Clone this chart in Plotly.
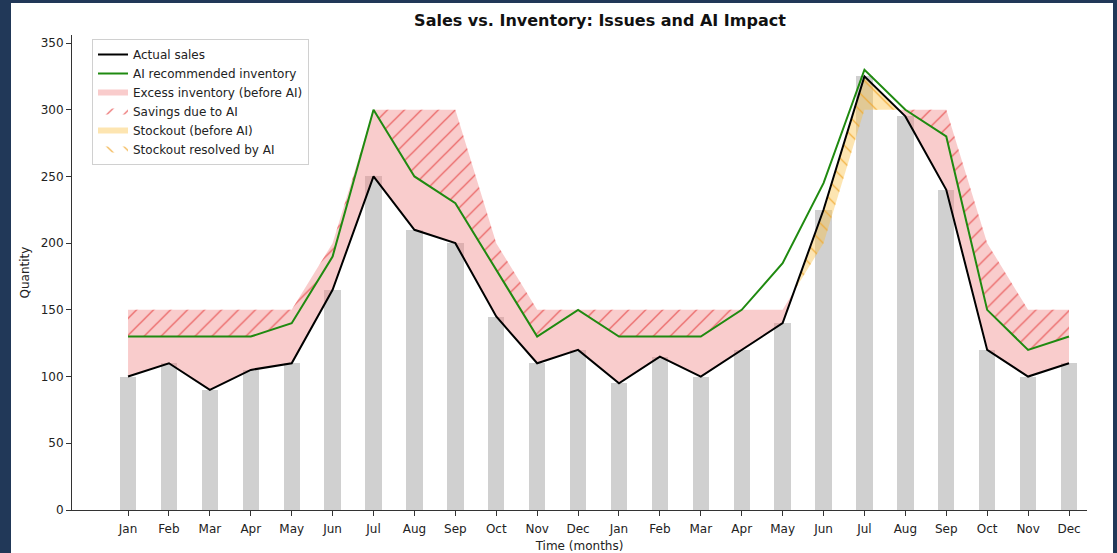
import plotly.graph_objects as go

months = ["Jan", "Feb", "Mar", "Apr", "May", "Jun", "Jul", "Aug", "Sep", "Oct", "Nov", "Dec"] * 2
actual_sales = [100, 110, 90, 105, 110, 165, 250, 210, 200, 145, 110, 120,
                95, 115, 100, 120, 140, 225, 325, 295, 240, 120, 100, 110]
inventory_before_ai = [150, 150, 150, 150, 150, 200, 300, 300, 300, 200, 150, 150,
                       150, 150, 150, 150, 150, 200, 300, 300, 300, 200, 150, 150]
ai_inventory = [130, 130, 130, 130, 140, 190, 300, 250, 230, 180, 130, 150,
                130, 130, 130, 150, 185, 245, 330, 300, 280, 150, 120, 130]

x = list(range(len(months)))


def region(xv, lo, hi):
    """Points of the area between lo and hi where hi > lo, with crossings interpolated."""
    xs, los, his = [], [], []
    n = len(xv)
    for i in range(n):
        xs.append(xv[i]); los.append(lo[i]); his.append(max(lo[i], hi[i]))
        if i < n - 1:
            d0 = hi[i] - lo[i]
            d1 = hi[i + 1] - lo[i + 1]
            if d0 * d1 < 0:
                t = d0 / (d0 - d1)
                xc = xv[i] + t * (xv[i + 1] - xv[i])
                yc = lo[i] + t * (lo[i + 1] - lo[i])
                xs.append(xc); los.append(yc); his.append(yc)
    return xs + xs[::-1], his + los[::-1]


fig = go.Figure()

# white card on dark background
fig.add_shape(type="rect", xref="paper", yref="paper",
              x0=(11 - 72) / 1015, x1=(1113 - 72) / 1015,
              y0=-43 / 475 - 0.01, y1=(510 - 3) / 475,
              fillcolor="white", line_width=0, layer="below")

fig.add_trace(go.Bar(x=x, y=actual_sales, width=0.4, marker_color="#d0d0d0",
                     marker_line_width=0, showlegend=False, hoverinfo="skip"))

# Excess inventory (before AI)
ex_x, ex_y = region(x, actual_sales, inventory_before_ai)
fig.add_trace(go.Scatter(x=ex_x, y=ex_y, fill="toself", mode="none",
                         fillcolor="rgba(240,128,128,0.4)",
                         name="Excess inventory (before AI)", legendrank=3))

# Savings due to AI
sv_x, sv_y = region(x, ai_inventory, inventory_before_ai)
fig.add_trace(go.Scatter(x=sv_x, y=sv_y, fill="toself", mode="none",
                         fillcolor="rgba(0,0,0,0)",
                         fillpattern=dict(shape="/", fgcolor="rgba(230,70,70,0.9)",
                                          bgcolor="rgba(0,0,0,0)", size=12,
                                          solidity=0.1, fillmode="replace"),
                         name="Savings due to AI", legendrank=4))

# Stockout (before AI)
so_x, so_y = region(x, inventory_before_ai, actual_sales)
fig.add_trace(go.Scatter(x=so_x, y=so_y, fill="toself", mode="none",
                         fillcolor="rgba(250,190,60,0.4)",
                         name="Stockout (before AI)", legendrank=5))

# Stockout resolved by AI
fig.add_trace(go.Scatter(x=so_x, y=so_y, fill="toself", mode="none",
                         fillcolor="rgba(0,0,0,0)",
                         fillpattern=dict(shape="\\", fgcolor="rgba(240,165,40,0.95)",
                                          bgcolor="rgba(0,0,0,0)", size=12,
                                          solidity=0.1, fillmode="replace"),
                         name="Stockout resolved by AI", legendrank=6))

fig.add_trace(go.Scatter(x=x, y=actual_sales, mode="lines",
                         line=dict(color="black", width=2),
                         name="Actual sales", legendrank=1))
fig.add_trace(go.Scatter(x=x, y=ai_inventory, mode="lines",
                         line=dict(color="#1f8a10", width=2),
                         name="AI recommended inventory", legendrank=2))

font = "DejaVu Sans, Verdana, sans-serif"
fig.update_layout(
    width=1117, height=553,
    margin=dict(l=72, r=30, t=35, b=43),
    paper_bgcolor="#213858",
    plot_bgcolor="white",
    font=dict(family=font, size=12, color="#222"),
    title=dict(text="<b>Sales vs. Inventory: Issues and AI Impact</b>",
               x=600 / 1117, xanchor="center", y=1 - 20 / 553, yanchor="middle",
               font=dict(size=16, color="#111", family=font)),
    showlegend=True,
    legend=dict(x=(92 - 72) / 1015, y=(510 - 39) / 475, xanchor="left", yanchor="top",
                bgcolor="rgba(255,255,255,0.85)", bordercolor="#d0d0d0", borderwidth=1,
                font=dict(size=12, color="#222"), itemwidth=30, tracegroupgap=0),
    bargap=0,
)
fig.update_xaxes(range=[-1.37, 23.44], tickmode="array", tickvals=x, ticktext=months,
                 showgrid=False, zeroline=False, showline=True, linecolor="#333",
                 linewidth=1, ticks="outside", ticklen=5, tickcolor="#333",
                 ticklabelstandoff=3, automargin=False,
                 title=dict(text="Time (months)", standoff=10, font=dict(size=12)))
fig.update_yaxes(range=[0, 356], tickmode="array", tickvals=list(range(0, 351, 50)),
                 showgrid=False, zeroline=False, showline=True, linecolor="#333",
                 linewidth=1, ticks="outside", ticklen=5, tickcolor="#333",
                 automargin=False,
                 title=dict(text="Quantity", standoff=8, font=dict(size=12)))

fig.write_html("out.html",
               config={"displayModeBar": False},
               post_script="document.body.style.margin='0px';"
                           "document.body.style.background='#213858';")
